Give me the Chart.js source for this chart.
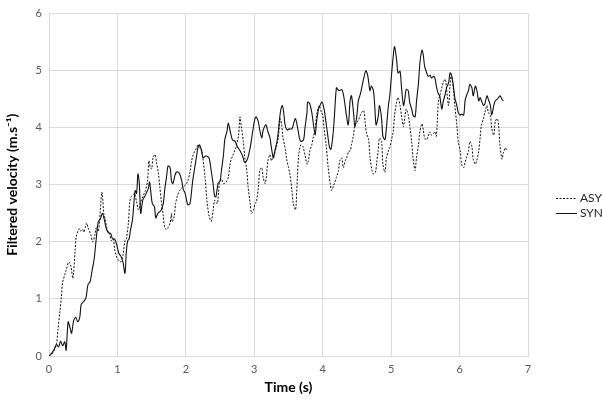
<!DOCTYPE html>
<html>
<head>
<meta charset="utf-8">
<script src="https://cdn.jsdelivr.net/npm/chart.js@4/dist/chart.umd.min.js"></script>
<style>
  body { margin: 0; background: #fff; }
  #wrap { width: 602px; height: 401px; }
</style>
</head>
<body>
<div id="wrap"><canvas id="chart" width="602" height="401"></canvas></div>
<script>
// time (s) and filtered velocity (m/s)
const asyTime = [0,0.06,0.11,0.13,0.16,0.18,0.2,0.23,0.25,0.29,0.32,0.35,0.38,0.4,0.44,0.46,0.49,0.51,0.53,0.55,0.57,0.61,0.64,0.67,0.69,0.72,0.74,0.77,0.78,0.8,0.82,0.85,0.89,0.91,0.94,0.96,0.99,1.02,1.05,1.08,1.11,1.13,1.16,1.18,1.2,1.23,1.25,1.28,1.31,1.34,1.38,1.41,1.44,1.46,1.48,1.5,1.52,1.55,1.57,1.6,1.62,1.64,1.67,1.69,1.72,1.74,1.77,1.79,1.8,1.83,1.85,1.88,1.91,1.93,1.96,1.98,2.01,2.03,2.06,2.08,2.1,2.13,2.16,2.18,2.2,2.23,2.25,2.28,2.31,2.34,2.37,2.4,2.42,2.46,2.49,2.52,2.55,2.59,2.62,2.65,2.69,2.73,2.77,2.79,2.81,2.84,2.86,2.89,2.91,2.94,2.96,2.99,3.01,3.03,3.06,3.08,3.11,3.13,3.16,3.18,3.2,3.23,3.25,3.28,3.3,3.33,3.35,3.38,3.4,3.42,3.45,3.47,3.5,3.52,3.55,3.57,3.6,3.61,3.63,3.65,3.68,3.71,3.74,3.77,3.79,3.81,3.84,3.86,3.89,3.91,3.93,3.95,3.98,4.0,4.02,4.05,4.08,4.11,4.13,4.16,4.2,4.23,4.25,4.28,4.3,4.33,4.35,4.38,4.4,4.42,4.45,4.47,4.5,4.52,4.55,4.57,4.6,4.62,4.64,4.67,4.69,4.72,4.74,4.77,4.79,4.81,4.83,4.86,4.88,4.91,4.93,4.96,4.98,5.0,5.03,5.05,5.08,5.1,5.13,5.15,5.18,5.2,5.22,5.25,5.27,5.3,5.32,5.35,5.37,5.4,5.42,5.45,5.47,5.49,5.52,5.54,5.57,5.59,5.62,5.64,5.66,5.69,5.71,5.74,5.76,5.79,5.81,5.84,5.86,5.88,5.91,5.93,5.96,5.98,6.01,6.03,6.06,6.08,6.1,6.13,6.15,6.18,6.2,6.23,6.25,6.28,6.3,6.32,6.35,6.37,6.4,6.42,6.45,6.47,6.5,6.52,6.55,6.57,6.59,6.62,6.64,6.67,6.69];
const asyVel = [0,0.06,0.22,0.45,0.79,1.02,1.3,1.42,1.5,1.65,1.57,1.36,1.82,2.1,2.23,2.19,2.22,2.17,2.25,2.33,2.25,2.13,2.0,2.12,2.25,2.18,2.39,2.87,2.84,2.5,2.4,2.22,2.13,2.02,2.05,1.87,1.73,1.67,1.65,1.76,2.02,2.05,2.33,2.7,2.79,2.82,2.85,2.7,2.56,2.7,2.82,2.9,3.07,3.42,3.3,3.28,3.47,3.53,3.4,3.19,2.96,2.73,2.45,2.25,2.22,2.25,2.33,2.5,2.35,2.45,2.67,2.82,2.9,2.93,2.97,2.98,3.02,3.07,3.22,3.39,3.5,3.59,3.65,3.7,3.65,3.6,3.45,3.13,2.7,2.45,2.36,2.56,2.73,2.67,3.02,3.1,3.02,3.05,3.13,3.39,3.53,3.65,3.87,4.19,4.02,3.76,3.5,3.25,2.96,2.67,2.5,2.56,2.67,2.7,2.96,3.25,3.3,3.13,3.02,3.19,3.42,3.53,3.42,3.53,3.56,3.7,3.82,4.16,4.05,3.82,3.65,3.47,3.3,3.19,2.9,2.67,2.56,2.62,3.13,3.53,3.7,3.67,3.53,3.36,3.42,3.59,3.7,3.82,3.99,4.22,4.33,4.39,4.27,4.22,3.99,3.7,3.3,3.02,2.9,2.99,3.13,3.25,3.42,3.47,3.3,3.42,3.47,3.59,3.59,3.7,3.87,4.05,4.1,4.13,4.22,4.27,4.3,4.1,3.9,3.8,3.5,3.25,3.19,3.22,3.4,3.6,3.82,3.76,3.36,3.22,3.47,3.59,3.65,3.76,3.93,4.22,4.45,4.53,4.39,4.22,4.02,4.19,4.33,4.22,4.05,3.76,3.47,3.25,3.47,3.7,3.93,4.07,3.96,3.82,3.79,3.85,3.93,3.87,3.9,3.93,3.85,4.45,4.56,4.7,4.79,4.85,4.67,4.39,4.73,4.93,4.67,4.39,4.05,3.76,3.59,3.36,3.3,3.39,3.47,3.59,3.76,3.67,3.45,3.36,3.42,3.59,3.82,4.05,4.16,4.27,4.39,4.27,4.22,3.99,3.87,4.1,4.16,4.05,3.7,3.45,3.56,3.65,3.59];

const synTime = [0,0.04,0.08,0.11,0.14,0.17,0.2,0.23,0.25,0.28,0.31,0.33,0.36,0.39,0.42,0.45,0.47,0.51,0.54,0.57,0.6,0.63,0.66,0.69,0.72,0.75,0.78,0.81,0.84,0.87,0.9,0.93,0.96,0.99,1.02,1.05,1.08,1.11,1.13,1.15,1.17,1.19,1.22,1.24,1.26,1.28,1.3,1.32,1.34,1.37,1.4,1.42,1.45,1.47,1.49,1.51,1.54,1.56,1.59,1.62,1.64,1.67,1.69,1.72,1.74,1.77,1.79,1.81,1.84,1.86,1.89,1.91,1.94,1.96,1.99,2.01,2.03,2.06,2.08,2.1,2.13,2.16,2.18,2.2,2.23,2.25,2.28,2.31,2.34,2.37,2.4,2.42,2.44,2.47,2.5,2.52,2.55,2.57,2.6,2.62,2.65,2.68,2.72,2.75,2.79,2.83,2.86,2.9,2.94,2.98,3.01,3.03,3.06,3.08,3.11,3.13,3.17,3.2,3.23,3.25,3.28,3.3,3.34,3.37,3.39,3.41,3.43,3.45,3.48,3.51,3.55,3.57,3.6,3.63,3.66,3.68,3.72,3.74,3.77,3.78,3.81,3.84,3.86,3.89,3.91,3.94,3.96,3.99,4.02,4.04,4.07,4.1,4.12,4.15,4.17,4.2,4.22,4.24,4.28,4.31,4.34,4.37,4.38,4.4,4.42,4.45,4.47,4.5,4.52,4.55,4.57,4.6,4.63,4.66,4.69,4.71,4.74,4.76,4.78,4.81,4.83,4.86,4.88,4.91,4.93,4.96,4.98,5.0,5.03,5.05,5.08,5.1,5.13,5.15,5.18,5.2,5.22,5.25,5.27,5.3,5.32,5.35,5.37,5.4,5.42,5.45,5.47,5.49,5.52,5.54,5.57,5.59,5.62,5.64,5.66,5.69,5.71,5.74,5.76,5.79,5.81,5.84,5.86,5.88,5.91,5.93,5.96,5.98,6.01,6.03,6.06,6.08,6.1,6.13,6.15,6.18,6.2,6.23,6.25,6.28,6.3,6.32,6.35,6.37,6.4,6.42,6.45,6.47,6.5,6.52,6.55,6.57,6.59,6.62,6.64];
const synVel = [0,0.05,0.13,0.2,0.16,0.26,0.18,0.25,0.1,0.6,0.48,0.4,0.62,0.68,0.6,0.68,0.9,0.96,1.02,1.25,1.3,1.5,1.7,2.05,2.35,2.4,2.5,2.38,2.22,2.16,2.15,2.05,2.05,1.95,1.8,1.75,1.65,1.45,1.82,2.02,2.05,2.2,2.39,2.67,2.9,2.85,3.19,3.02,2.5,2.73,2.8,2.85,2.93,3.05,2.85,2.67,2.62,2.42,2.5,2.53,2.56,2.67,2.9,3.16,3.33,3.3,3.07,3.02,3.16,3.22,3.22,3.19,3.07,2.93,2.85,2.73,2.65,2.67,2.85,3.07,3.3,3.53,3.67,3.7,3.6,3.47,3.5,3.5,3.47,3.25,3.0,2.8,2.79,3.02,3.07,3.25,3.53,3.8,3.93,4.08,3.93,3.79,3.76,3.67,3.6,3.5,3.39,3.45,3.65,3.96,4.16,4.19,4.1,3.96,3.82,3.96,4.05,3.93,3.82,3.65,3.47,3.59,3.82,4.16,4.33,4.39,4.27,4.05,3.96,3.98,3.98,4.05,4.16,4.02,3.82,3.76,3.79,3.99,4.27,4.45,4.42,4.27,4.1,3.87,4.1,4.33,4.39,4.45,4.33,4.16,3.9,3.65,3.62,3.87,4.19,4.7,4.67,4.65,4.67,4.53,4.27,4.05,4.1,4.47,4.56,4.27,4.02,4.22,4.47,4.59,4.7,4.87,5.0,4.9,4.65,4.73,4.65,4.39,4.05,4.19,4.39,4.16,3.85,3.79,3.99,4.39,4.56,4.85,5.25,5.42,5.19,4.96,4.99,4.73,4.39,4.5,4.67,4.65,4.45,4.33,4.22,4.19,4.45,4.79,5.13,5.36,5.27,5.07,4.96,4.9,4.92,4.87,4.9,4.87,4.73,4.59,4.56,4.33,4.45,4.59,4.7,4.79,4.96,4.93,4.73,4.53,4.39,4.27,4.22,4.24,4.22,4.47,4.56,4.65,4.76,4.7,4.56,4.73,4.67,4.47,4.53,4.47,4.39,4.42,4.56,4.5,4.39,4.22,4.39,4.47,4.5,4.53,4.56,4.5,4.47];

const seriesNames = ["ASY", "SYN"];
const xTicks = [0, 1, 2, 3, 4, 5, 6, 7];
const yTicks = [0, 1, 2, 3, 4, 5, 6];

const toPoints = (xs, ys) => xs.map((x, i) => ({ x: x, y: ys[i] }));

const gridCol = "#d9d9d9";
const tickCol = "#595959";
const fontFam = "Lato, 'Liberation Sans', sans-serif";

// legend drawn by hand so it can sit where the original one is
const sideLegend = {
    id: "sideLegend",
    afterDraw(chart) {
        const ctx = chart.ctx;
        const rows = [198, 213];
        chart.data.datasets.forEach((ds, i) => {
            const y = rows[i];
            ctx.save();
            ctx.strokeStyle = ds.borderColor;
            ctx.lineWidth = 1;
            ctx.setLineDash(ds.borderDash || []);
            ctx.beginPath();
            ctx.moveTo(556, y + 0.5);
            ctx.lineTo(577, y + 0.5);
            ctx.stroke();
            ctx.setLineDash([]);
            ctx.fillStyle = "#262626";
            ctx.font = "12px " + fontFam;
            ctx.textBaseline = "middle";
            ctx.fillText(ds.label, 580, y + 0.5);
            ctx.restore();
        });
    }
};

new Chart(document.getElementById("chart"), {
    type: "line",
    data: {
        datasets: [
            { label: seriesNames[0], data: toPoints(asyTime, asyVel), borderColor: "#111", borderWidth: 1, borderDash: [2, 1.5], pointRadius: 0, tension: 0.3 },
            { label: seriesNames[1], data: toPoints(synTime, synVel), borderColor: "#111", borderWidth: 1.1, pointRadius: 0, tension: 0.3 }
        ]
    },
    options: {
        responsive: false,
        animation: false,
        devicePixelRatio: 1,
        layout: { padding: { top: 0, right: 74, left: 0, bottom: 0 } },
        plugins: { legend: { display: false }, tooltip: { enabled: false } },
        scales: {
            x: {
                type: "linear", min: 0, max: 7,
                afterBuildTicks: s => { s.ticks = xTicks.map(v => ({ value: v })); },
                afterFit: s => { s.height = 45; },
                grid: { color: gridCol, drawTicks: false },
                border: { color: gridCol },
                ticks: { color: tickCol, font: { family: fontFam, size: 11 }, padding: 7, maxRotation: 0 },
                title: { display: true, text: "Time (s)", color: "#000", font: { family: fontFam, size: 14, weight: "bold" }, padding: { top: 0, bottom: 5 } }
            },
            y: {
                min: 0, max: 6,
                afterBuildTicks: s => { s.ticks = yTicks.map(v => ({ value: v })); },
                afterFit: s => { s.width = 49; },
                grid: { color: gridCol, drawTicks: false },
                border: { color: gridCol },
                ticks: { color: tickCol, font: { family: fontFam, size: 11 }, padding: 7 },
                title: { display: true, text: "Filtered velocity (m.s⁻¹)", color: "#000", font: { family: fontFam, size: 14, weight: "bold" }, padding: { top: 4, bottom: 0 } }
            }
        }
    },
    plugins: [sideLegend]
});
</script>
</body>
</html>
